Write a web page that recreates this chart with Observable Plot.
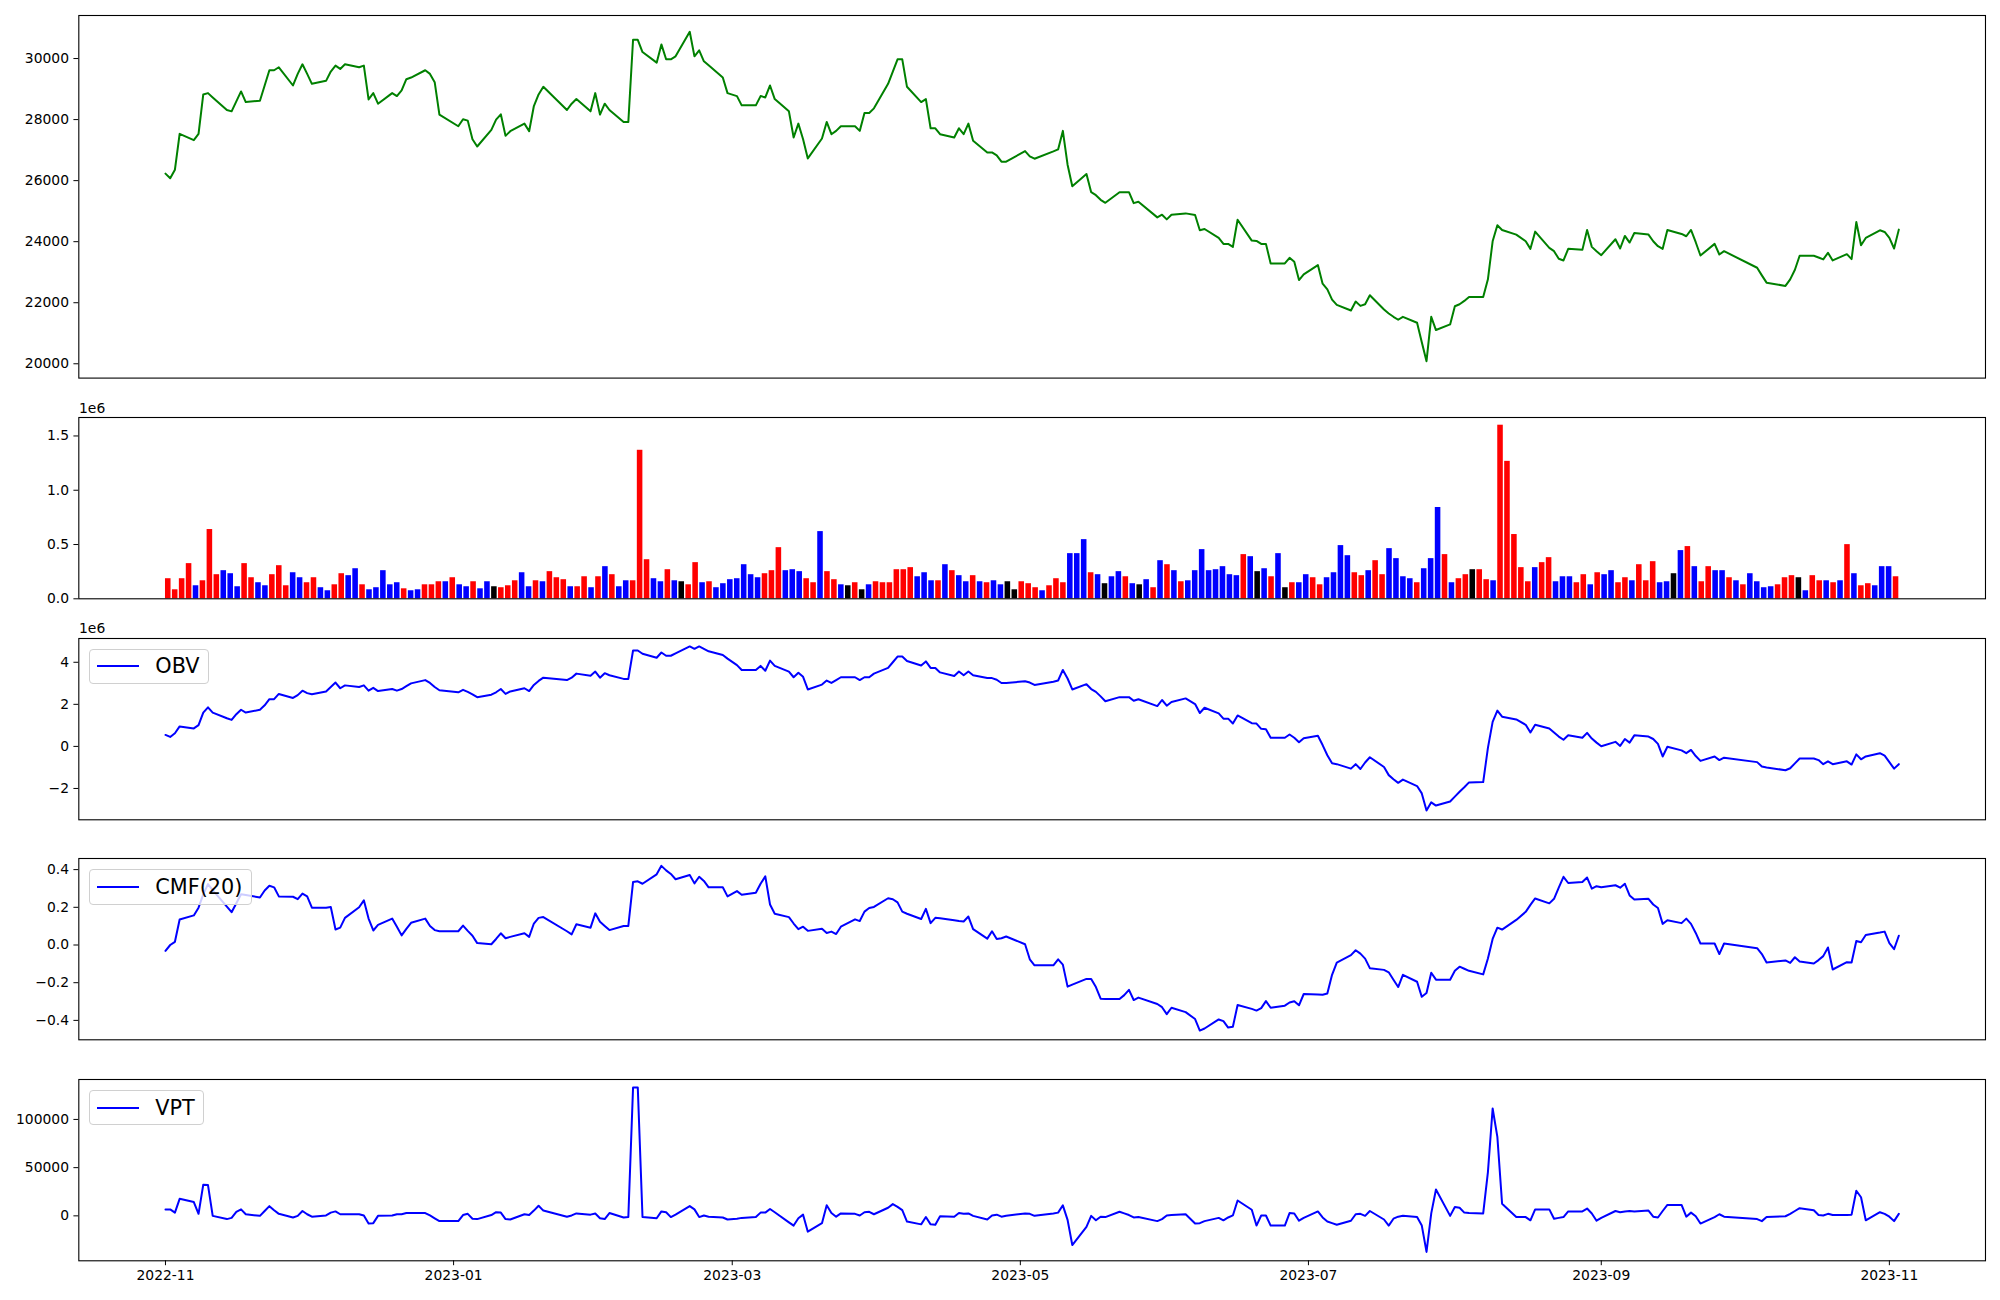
<!DOCTYPE html>
<html>
<head>
<meta charset="utf-8">
<script src="https://cdn.jsdelivr.net/npm/d3@7"></script>
<script src="https://cdn.jsdelivr.net/npm/@observablehq/plot@0.6"></script>
<style>
  html, body { margin: 0; padding: 0; background: #ffffff; }
  #root { position: relative; width: 2000px; height: 1300px; overflow: hidden; font-family: "DejaVu Sans", sans-serif; background: #fff; }
  .legend { position: absolute; left: 88.5px; height: 35.5px; box-sizing: border-box; border: 1px solid #d0d0d0; border-radius: 4px;
            background: rgba(255,255,255,0.8); display: flex; align-items: center; padding: 0 8.3px 0 7.6px;
            font-family: "DejaVu Sans", sans-serif; font-size: 20.8px; color: #000; z-index: 5; }
  .legend .swatch { width: 41.6px; height: 2px; background: #0000ff; margin-right: 16.6px; }
  .offset { position: absolute; left: 79px; font-family: "DejaVu Sans", sans-serif; font-size: 13.9px; line-height: 16px; color: #000; z-index: 5; }
</style>
</head>
<body>
<div id="root"></div>
<script>
// ---------------- data ----------------
const tradeStart = "2022-11-01";
const tradeEnd = "2023-11-03";
// KRX closed weekdays inside the range
const closedDays = ["2022-12-30","2023-01-23","2023-01-24","2023-03-01","2023-05-01","2023-05-05","2023-05-29",
  "2023-06-06","2023-08-15","2023-09-28","2023-09-29","2023-10-02","2023-10-03","2023-10-09"];

const closePrice = [
  26229,26077,26360,27532,27326,27532,28824,28867,28726,28314,28270,28596,28922,28574,28618,29117,29616,29616,29714,29117,29497,29812,
  29497,29171,29269,29573,29768,29660,29812,29714,29768,28661,28867,28520,28867,28770,28954,29323,29378,29616,29497,29226,28162,
  27782,28010,27966,27358,27119,27662,27999,28172,27467,27619,27868,27619,28444,28824,29074,28314,28520,28672,28270,28867,
  28162,28520,28314,27923,27923,30615,30615,30213,29866,30463,29975,29975,30072,30876,30072,30268,29909,29779,29378,28867,
  28770,28466,28466,28770,28726,29117,28672,28270,27412,27868,27358,26727,27380,27923,27521,27630,27782,27782,27630,28216,28216,28368,
  29171,29573,29975,29975,29074,28574,28672,27716,27716,27521,27412,27716,27521,27868,27304,26924,26924,26826,26620,26620,
  26967,26794,26718,26957,27022,27630,26522,25817,26218,25621,25524,25372,25274,25621,25621,25621,25263,25307,24796,24883,
  24731,24883,24927,24872,24373,24416,24123,23928,23928,23830,24720,24036,24026,23928,23928,23287,23287,23472,23342,22744,22929,
  23233,22625,22440,22104,21930,21745,22038,21897,21951,22245,21778,21648,21539,21442,21539,21344,20704,20085,21539,21105,21290,
  21886,21951,22060,22190,22190,22766,24014,24536,24384,24232,24014,23765,24329,23797,23689,23439,23385,23765,23732,24384,23830,23689,
  23558,24080,23776,24188,23971,24286,24232,24014,23852,23765,24384,24254,24178,24384,23982,23548,23928,23580,23689,
  23146,22897,22658,22550,22766,23082,23538,23538,23483,23418,23635,23385,23591,23428,24644,23884,24123,24373,24318,
  24123,23776,24395
];

const volume = [
  185000,83000,185000,324000,120000,166000,638000,222000,259000,231000,
  111000,324000,194000,148000,120000,222000,305000,120000,240000,194000,
  148000,194000,102000,74000,129000,231000,213000,277000,129000,83000,
  102000,259000,129000,148000,92000,74000,83000,129000,129000,157000,
  157000,194000,129000,111000,157000,92000,157000,111000,102000,120000,
  166000,240000,111000,166000,157000,250000,194000,176000,111000,111000,
  203000,102000,203000,296000,222000,111000,166000,166000,1368000,360000,
  185000,157000,268000,166000,157000,129000,333000,148000,157000,102000,
  139000,176000,185000,314000,222000,194000,231000,259000,471000,259000,
  268000,250000,185000,148000,619000,250000,176000,129000,120000,148000,
  83000,129000,157000,148000,148000,268000,268000,287000,203000,240000,
  166000,166000,314000,259000,213000,157000,213000,157000,148000,166000,
  129000,157000,83000,157000,139000,102000,74000,120000,185000,148000,
  416000,416000,545000,240000,222000,139000,203000,250000,203000,139000,
  129000,176000,102000,351000,314000,259000,157000,166000,259000,453000,
  259000,268000,296000,222000,213000,407000,388000,250000,277000,203000,
  416000,102000,148000,148000,222000,194000,129000,194000,240000,490000,
  397000,240000,213000,259000,351000,222000,462000,370000,203000,185000,
  148000,277000,370000,841000,407000,148000,185000,222000,268000,268000,
  176000,166000,1599000,1266000,592000,287000,157000,287000,333000,379000,
  157000,203000,203000,148000,222000,129000,240000,222000,259000,148000,
  194000,166000,314000,166000,342000,148000,157000,231000,444000,481000,
  296000,157000,296000,259000,259000,194000,166000,129000,231000,157000,
  102000,111000,129000,194000,213000,194000,74000,213000,166000,166000,
  148000,166000,499000,231000,120000,139000,120000,296000,296000,203000
];

// bar colour per day: r = red, b = blue, k = black
const volumeColorCode =
  "rrrrbrrrbb" + "brrbbrrrbb" + "rrbbrrbbrb" + "bbbbrbbrrr" + "brbbrbbkrr" +
  "rbbrbrrrbr" + "rbrbrbbrrr" + "bbrbkrrbrb" + "bbbbbbrrrb" + "bbrrbrrbkr" +
  "kbrrrrrrbb" + "brbrbbrbrb" + "bkkrrrbrrr" + "bbbrbkbbrb" + "kbrbrbrbbb" +
  "bbbbbrbkbr" + "bkrbbrrbbb" + "brrbrrbbbb" + "rbbbrbrrkr" + "rbrrrrrbrr" +
  "bbbrrbrbbr" + "rbrrrbbkbr" + "brrbbrbrbb" + "bbrrrkbrrb" + "rbrbrrbbbr";
const colorNames = { r: "red", b: "blue", k: "black" };

const obvMillions = [
  0.545,0.449,0.623,0.951,0.854,1.009,1.607,1.858,1.607,1.337,1.260,1.530,1.742,1.607,1.742,1.955,2.244,2.244,2.495,2.302,2.437,2.650,
  2.534,2.476,2.611,2.823,3.036,2.765,2.901,2.823,2.901,2.650,2.785,2.630,2.727,2.650,2.727,2.862,2.997,3.152,3.016,2.823,2.669,
  2.572,2.688,2.592,2.476,2.341,2.457,2.572,2.727,2.495,2.611,2.765,2.630,2.920,3.113,3.267,3.152,3.267,3.460,3.364,3.557,
  3.267,3.480,3.383,3.209,3.209,4.561,4.561,4.406,4.213,4.464,4.310,4.310,4.426,4.754,4.638,4.754,4.638,4.522,4.348,4.175,
  3.866,3.634,3.634,3.827,3.595,4.078,3.827,3.557,3.287,3.499,3.306,2.707,2.939,3.132,3.016,3.152,3.287,3.287,3.152,3.287,3.287,3.460,
  3.731,4.001,4.271,4.271,4.059,3.846,4.040,3.731,3.731,3.518,3.345,3.557,3.383,3.557,3.383,3.248,3.248,3.171,3.016,3.016,
  3.094,3.036,2.920,3.074,3.132,3.634,3.229,2.707,2.958,2.727,2.592,2.379,2.148,2.341,2.341,2.341,2.167,2.244,1.916,2.206,
  1.935,2.109,2.283,2.012,1.588,1.839,1.568,1.318,1.318,1.086,1.472,1.105,1.086,0.835,0.816,0.410,0.410,0.565,0.410,0.198,0.391,
  0.507,0.063,-0.420,-0.806,-0.845,-1.057,-0.845,-1.076,-0.767,-0.516,-0.980,-1.366,-1.559,-1.733,-1.578,-1.887,-2.235,-3.045,-2.659,-2.814,-2.621,
  -2.389,-2.157,-1.945,-1.713,-1.694,-0.072,1.163,1.704,1.414,1.279,1.028,0.661,1.028,0.854,0.661,0.468,0.314,0.526,0.410,0.642,0.372,0.179,
  0.005,0.217,0.024,0.352,0.179,0.526,0.468,0.352,0.121,-0.478,-0.015,-0.188,-0.323,-0.169,-0.459,-0.690,-0.478,-0.652,-0.536,
  -0.748,-0.960,-0.999,-1.134,-1.038,-0.806,-0.574,-0.574,-0.652,-0.845,-0.710,-0.845,-0.710,-0.864,-0.381,-0.613,-0.478,-0.323,-0.439,
  -0.748,-1.057,-0.845
];

const cmf20 = [
  -0.031,0.000,0.017,0.135,0.157,0.198,0.269,0.323,0.291,0.204,0.174,0.222,0.269,0.265,0.252,0.289,0.314,0.306,0.258,0.256,0.243,0.273,
  0.258,0.198,0.198,0.202,0.082,0.092,0.144,0.200,0.237,0.140,0.077,0.107,0.140,0.097,0.051,0.086,0.118,0.140,0.101,0.079,0.073,
  0.073,0.103,0.075,0.049,0.010,0.004,0.032,0.062,0.036,0.043,0.062,0.043,0.114,0.144,0.148,0.073,0.056,0.110,0.092,0.168,
  0.123,0.101,0.079,0.101,0.101,0.334,0.338,0.325,0.375,0.420,0.396,0.377,0.349,0.371,0.327,0.362,0.340,0.306,0.306,0.258,
  0.286,0.267,0.277,0.325,0.364,0.215,0.166,0.148,0.114,0.084,0.097,0.075,0.086,0.064,0.071,0.058,0.097,0.136,0.127,0.177,0.196,0.202,
  0.248,0.243,0.226,0.177,0.166,0.138,0.192,0.116,0.144,0.142,0.131,0.127,0.125,0.151,0.084,0.034,0.073,0.032,0.036,0.045,
  0.004,-0.076,-0.108,-0.108,-0.076,-0.104,-0.221,-0.210,-0.180,-0.180,-0.223,-0.285,-0.287,-0.287,-0.266,-0.238,-0.292,-0.279,-0.313,-0.330,
  -0.367,-0.333,-0.356,-0.393,-0.454,-0.443,-0.395,-0.404,-0.438,-0.434,-0.318,-0.339,-0.348,-0.335,-0.298,-0.333,-0.322,-0.305,-0.298,-0.320,-0.260,
  -0.262,-0.264,-0.257,-0.158,-0.093,-0.054,-0.028,-0.046,-0.072,-0.123,-0.132,-0.145,-0.184,-0.223,-0.158,-0.195,-0.275,-0.255,-0.147,-0.184,-0.184,
  -0.137,-0.115,-0.126,-0.137,-0.156,-0.072,0.032,0.092,0.082,0.133,0.176,0.213,0.247,0.221,0.245,0.304,0.362,0.329,0.334,0.358,0.299,0.312,
  0.306,0.317,0.304,0.325,0.263,0.241,0.245,0.215,0.196,0.112,0.131,0.116,0.140,0.112,0.064,0.008,0.008,-0.048,0.008,
  -0.017,-0.048,-0.093,-0.082,-0.095,-0.065,-0.087,-0.098,-0.080,-0.059,-0.013,-0.130,-0.091,-0.093,0.021,0.015,0.053,0.066,0.071,
  0.010,-0.022,0.049
];

const vpt = [
  6720,6720,3360,17640,14280,2100,32340,31920,0,-3360,-2100,4200,6720,1680,0,5040,10080,5880,2100,-1680,0,5040,
  1680,-840,420,3360,4620,1680,1680,1680,420,-7980,-7560,0,420,1680,1680,2940,2940,2940,420,-2520,-5460,
  -5460,840,2100,-2940,-3360,840,3780,3360,-3360,-3780,1680,840,5460,10500,5460,-840,420,2520,1260,2520,
  -2520,-3360,2940,-1680,-1260,133140,133140,-1260,-2520,4620,3780,-1260,1260,10080,6720,-1260,420,-840,-1680,-3780,
  -2940,-2100,-1260,3360,3360,7140,3780,-6720,-10080,-2520,1260,-16380,-7560,10920,2940,-840,2520,2100,420,3780,4200,1680,
  8400,12180,9240,5880,-5880,-8820,-1260,-8820,-9240,-420,-840,2940,2100,2520,0,-3780,420,1260,-840,0,
  2520,2100,0,2520,3360,10920,-4200,-30240,-11340,0,-4620,-840,-1260,4200,2520,840,-1680,-1260,-5460,-3360,
  420,840,1680,-7980,-7560,-5460,-2100,-4620,-1680,420,15960,6300,-10080,420,420,-10080,-10080,2940,2520,-5040,-2100,
  4620,-1680,-5880,-7560,-9240,-5040,1680,2100,0,5040,-3780,-10080,-2940,-840,0,-1260,-10080,-37380,2520,27300,0,
  9240,8400,3360,2940,2520,45360,111300,81900,12600,-1260,-1260,-4620,6720,6720,-2940,-2100,-1260,4620,4620,7560,2520,-5040,
  -2100,5040,3780,4620,5040,4620,5460,-840,-1680,5040,11340,11340,-840,3360,-420,-7980,-1260,1680,-840,
  -3360,-5460,-1260,-420,2100,5040,7980,5880,840,420,2100,840,840,1260,26040,19320,-4620,3780,2100,
  -840,-5460,2100
];

const priceTicks = [20000, 22000, 24000, 26000, 28000, 30000];
const volumeTicks = [0, 500000, 1000000, 1500000];
const obvTicks = [-2, 0, 2, 4];
const cmfTicks = [-0.4, -0.2, 0, 0.2, 0.4];
const vptTicks = [0, 50000, 100000];
const monthTickLabels = ["2022-11", "2023-01", "2023-03", "2023-05", "2023-07", "2023-09", "2023-11"];

// ---------------- build table ----------------
const closedSet = new Set(closedDays);
const ymd = d3.utcFormat("%Y-%m-%d");
const dates = d3.utcDay.range(new Date(tradeStart), d3.utcDay.offset(new Date(tradeEnd), 1))
  .filter(d => d.getUTCDay() !== 0 && d.getUTCDay() !== 6 && !closedSet.has(ymd(d)));

const rows = dates.map((date, i) => ({
  date, i,
  close: closePrice[i],
  vol: volume[i],
  color: colorNames[volumeColorCode[i]] || "red",
  obv: obvMillions[i],
  cmf: cmf20[i],
  vpt: vpt[i]
})).filter(r => r.close !== undefined);

// x domains with matplotlib-like 5% margins
const t0 = +rows[0].date, t1 = +rows[rows.length - 1].date, tp = 0.05 * (t1 - t0);
const timeDomain = [new Date(t0 - tp), new Date(t1 + tp)];
const n = rows.length;
const iLo = -0.4, iHi = n - 1 + 0.4, ip = 0.05 * (iHi - iLo);
const indexDomain = [iLo - ip, iHi + ip];

const root = document.getElementById("root");
const baseStyle = { fontFamily: "DejaVu Sans, sans-serif", fontSize: "13.9px", color: "black", background: "transparent", overflow: "visible" };

function panel({ top, h, x, y, marks, bottomAxis }) {
  const mt = 12, mb = bottomAxis ? 40 : 12;
  const chart = Plot.plot({
    width: 2000,
    height: h + mt + mb,
    marginLeft: 78.3,
    marginRight: 15,
    marginTop: mt,
    marginBottom: mb,
    style: baseStyle,
    x,
    y: { ...y, tickSize: 4.9, tickPadding: 4.9, label: null },
    color: { type: "identity" },
    marks: [...marks, Plot.frame({ stroke: "black", strokeWidth: 1.1 })]
  });
  chart.style.position = "absolute";
  chart.style.left = "0px";
  chart.style.top = (top - mt) + "px";
  root.appendChild(chart);
}

const H = 181.3, G = 39.3, T0 = 15.3;
const tops = [T0, T0 + 2 * H + G, T0 + 3 * H + 2 * G, T0 + 4 * H + 3 * G, T0 + 5 * H + 4 * G];

const hiddenTimeX = { type: "utc", domain: timeDomain, axis: null };
const fmtInt = d3.format("d");

// 1. price
panel({
  top: tops[0], h: 2 * H,
  x: hiddenTimeX,
  y: { domain: [19531, 31410], ticks: priceTicks, tickFormat: fmtInt },
  marks: [Plot.line(rows, { x: "date", y: "close", stroke: "green", strokeWidth: 2 })]
});

// 2. volume bars (by trading-day index)
panel({
  top: tops[1], h: H,
  x: { type: "linear", domain: indexDomain, axis: null },
  y: { domain: [0, 1670000], ticks: volumeTicks, tickFormat: d => d3.format(".1f")(d / 1e6) },
  marks: [Plot.rectY(rows, { x1: d => d.i - 0.4, x2: d => d.i + 0.4, y1: 0, y2: "vol", fill: "color" })]
});

// 3. OBV
panel({
  top: tops[2], h: H,
  x: hiddenTimeX,
  y: { domain: [-3.49, 5.13], ticks: obvTicks, tickFormat: fmtInt },
  marks: [Plot.line(rows, { x: "date", y: "obv", stroke: "blue", strokeWidth: 2 })]
});

// 4. CMF(20)
panel({
  top: tops[3], h: H,
  x: hiddenTimeX,
  y: { domain: [-0.503, 0.459], ticks: cmfTicks, tickFormat: d3.format(".1f") },
  marks: [Plot.line(rows, { x: "date", y: "cmf", stroke: "blue", strokeWidth: 2 })]
});

// 5. VPT with the date axis
panel({
  top: tops[4], h: H,
  x: { type: "utc", domain: timeDomain, ticks: monthTickLabels.map(s => new Date(s + "-01")),
       tickFormat: d3.utcFormat("%Y-%m"), tickSize: 4.9, tickPadding: 4.9, label: null },
  y: { domain: [-46600, 141400], ticks: vptTicks, tickFormat: fmtInt },
  marks: [Plot.line(rows, { x: "date", y: "vpt", stroke: "blue", strokeWidth: 2 })],
  bottomAxis: true
});

// legends and offset labels
function legend(top, label) {
  const el = document.createElement("div");
  el.className = "legend";
  el.style.top = (top + 10.8) + "px";
  const sw = document.createElement("div");
  sw.className = "swatch";
  const tx = document.createElement("span");
  tx.textContent = label;
  el.appendChild(sw); el.appendChild(tx);
  root.appendChild(el);
}
legend(tops[2], "OBV");
legend(tops[3], "CMF(20)");
legend(tops[4], "VPT");

function offsetLabel(top) {
  const el = document.createElement("div");
  el.className = "offset";
  el.style.top = (top - 17.5) + "px";
  el.textContent = "1e6";
  root.appendChild(el);
}
offsetLabel(tops[1]);
offsetLabel(tops[2]);
</script>
</body>
</html>
